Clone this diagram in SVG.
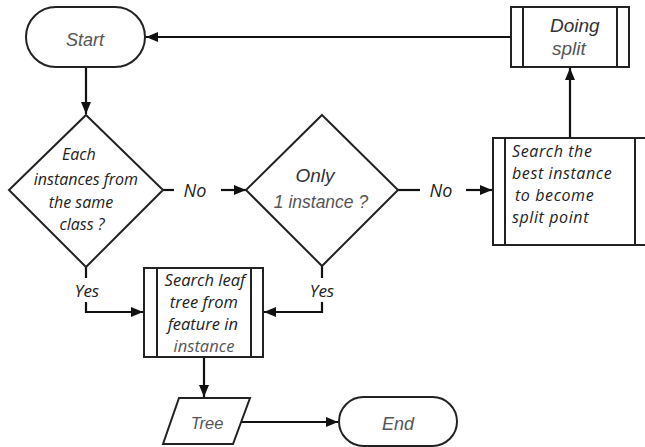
<svg xmlns="http://www.w3.org/2000/svg" width="645" height="447" viewBox="0 0 645 447">
<style>
.shape{fill:#fff;stroke:#222;stroke-width:2}
.line{fill:none;stroke:#111;stroke-width:2.2}
.ar{font-family:"Liberation Sans",Arial,sans-serif;font-style:italic;font-size:18px;fill:#555}
.cal{font-family:"Open Sans",Lato,sans-serif;font-style:italic;font-size:16px;fill:#222}
</style>
<defs>
<marker id="arr" viewBox="0 0 12 10" refX="12" refY="5" markerWidth="12" markerHeight="10" markerUnits="userSpaceOnUse" orient="auto">
<path d="M0,0 L12,5 L0,10 Z" fill="#111"/>
</marker>
</defs>
<rect width="645" height="447" fill="#fff"/>
<g id="connectors">
<line class="line" x1="86" y1="67" x2="86" y2="114" marker-end="url(#arr)"/>
<line class="line" x1="511" y1="37" x2="146" y2="37" marker-end="url(#arr)"/>
<line class="line" x1="570" y1="138" x2="570" y2="68" marker-end="url(#arr)"/>
<line class="line" x1="163" y1="190" x2="174" y2="190"/>
<line class="line" x1="221" y1="190" x2="246" y2="190" marker-end="url(#arr)"/>
<text class="cal" x="195" y="197" text-anchor="middle" style="font-size:18px">No</text>
<line class="line" x1="398" y1="190" x2="420" y2="190"/>
<line class="line" x1="466" y1="190" x2="492" y2="190" marker-end="url(#arr)"/>
<text class="cal" x="441" y="197" text-anchor="middle" style="font-size:18px">No</text>
<line class="line" x1="86" y1="267" x2="86" y2="278"/>
<polyline class="line" points="86,302 86,312 143,312" marker-end="url(#arr)"/>
<text class="cal" x="87" y="297" text-anchor="middle" style="font-size:17px">Yes</text>
<line class="line" x1="322" y1="266" x2="322" y2="278"/>
<polyline class="line" points="322,302 322,312 264,312" marker-end="url(#arr)"/>
<text class="cal" x="322" y="297" text-anchor="middle" style="font-size:17px">Yes</text>
<line class="line" x1="204" y1="357" x2="204" y2="397" marker-end="url(#arr)"/>
<line class="line" x1="240" y1="422" x2="338" y2="422" marker-end="url(#arr)"/>
</g>
<g id="start">
<rect class="shape" x="26" y="7" width="119" height="60" rx="30" ry="30"/>
<text class="ar" x="85" y="46" text-anchor="middle">Start</text>
</g>
<g id="doing-split">
<rect class="shape" x="511" y="7" width="118" height="60"/>
<line class="shape" x1="523" y1="7" x2="523" y2="67"/>
<line class="shape" x1="617" y1="7" x2="617" y2="67"/>
<text class="ar" x="550" y="32" style="fill:#333;font-size:19px">Doing</text>
<text class="ar" x="552" y="55" style="font-size:19px">split</text>
</g>
<g id="each-instances">
<polygon class="shape" points="86,115 163,190 86,267 9,190"/>
<text class="cal" text-anchor="middle">
<tspan x="81" y="160">Each</tspan>
<tspan x="88" y="185">instances from</tspan>
<tspan x="83" y="208">the same</tspan>
<tspan x="82" y="230">class ?</tspan>
</text>
</g>
<g id="only-one">
<polygon class="shape" points="322,115 398,190 322,266 246,190"/>
<text class="ar" x="315" y="182" text-anchor="middle" style="fill:#333;font-size:19px">Only</text>
<text class="ar" x="321" y="208" text-anchor="middle" style="font-size:17.5px">1 instance ?</text>
</g>
<g id="search-best">
<rect class="shape" x="493" y="138" width="153" height="107"/>
<line class="shape" x1="505" y1="138" x2="505" y2="245"/>
<line class="shape" x1="635" y1="138" x2="635" y2="245"/>
<text class="cal" style="font-size:16px;letter-spacing:0.6px">
<tspan x="512" y="157">Search the</tspan>
<tspan x="512" y="179">best instance</tspan>
<tspan x="515" y="201">to become</tspan>
<tspan x="512" y="223">split point</tspan>
</text>
</g>
<g id="search-leaf">
<rect class="shape" x="144" y="268" width="119" height="89"/>
<line class="shape" x1="157" y1="268" x2="157" y2="357"/>
<line class="shape" x1="251" y1="268" x2="251" y2="357"/>
<text class="cal" text-anchor="middle" style="font-size:16.5px">
<tspan x="207" y="286">Search leaf</tspan>
<tspan x="206" y="308">tree from</tspan>
<tspan x="205" y="330">feature in</tspan>
<tspan x="204" y="352" style="fill:#555">instance</tspan>
</text>
</g>
<g id="tree">
<polygon class="shape" points="179,398 250,398 233,444 163,444"/>
<text class="ar" x="207" y="429" text-anchor="middle" style="font-size:16.5px">Tree</text>
</g>
<g id="end">
<rect class="shape" x="339" y="397" width="118" height="49" rx="24.5" ry="24.5"/>
<text class="ar" x="398" y="430" text-anchor="middle">End</text>
</g>
</svg>
